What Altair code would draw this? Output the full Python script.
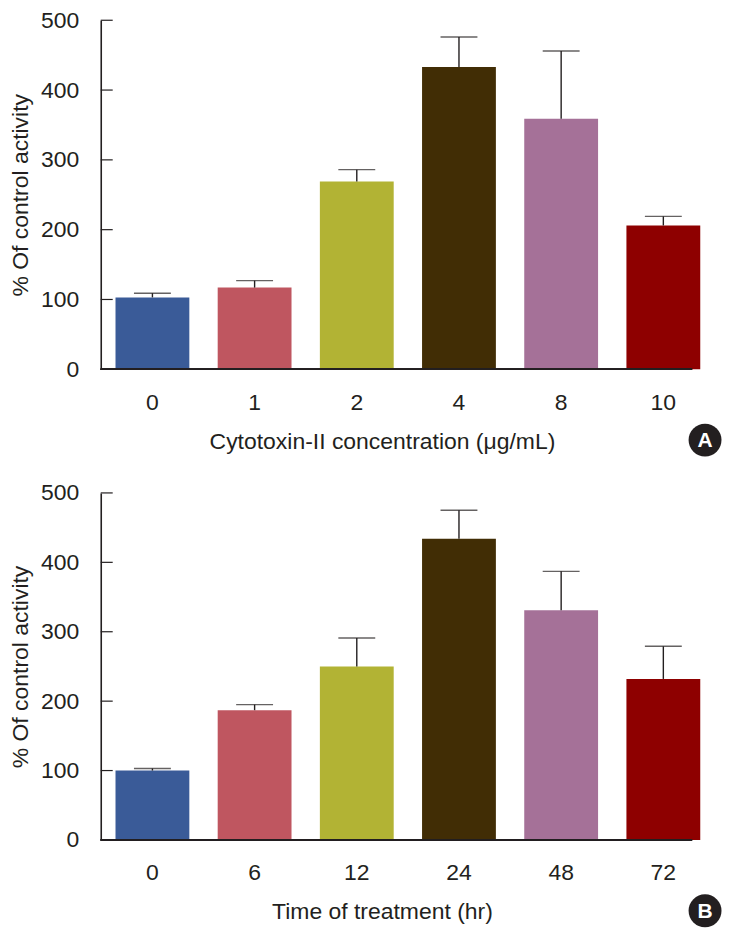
import altair as alt
import pandas as pd

# ---- data ----
conc_labels = ["0", "1", "2", "4", "8", "10"]
conc_mean = [103, 117, 269, 433, 359, 206]
conc_upper = [109, 127, 286, 476, 456, 219]

time_labels = ["0", "6", "12", "24", "48", "72"]
time_mean = [100, 187, 250, 434, 331, 232]
time_upper = [103, 195, 291, 475, 387, 279]

bar_colors = ["#3a5b98", "#bf5660", "#b2b334", "#412d05", "#a57198", "#8e0000"]
y_ticks = [0, 100, 200, 300, 400, 500]

INK = "#231f20"
FONT = "Liberation Sans"
W = 616


def panel(labels, means, uppers, xtitle, badge, H):
    df = pd.DataFrame({"cat": labels, "mean": means, "upper": uppers, "color": bar_colors})
    xscale = alt.Scale(paddingInner=0.2775, paddingOuter=0.1445)
    yscale = alt.Scale(domain=[0, 500], nice=False)
    ytitle = "% Of control activity"

    bars = alt.Chart(df).mark_bar().encode(
        x=alt.X("cat:N", sort=labels, scale=xscale,
                axis=alt.Axis(title=xtitle, domain=False, ticks=False, labelAngle=0,
                              labelPadding=22, labelFont=FONT, labelFontSize=23,
                              labelColor=INK, titleFont=FONT, titleFontSize=23,
                              titleFontWeight="normal", titleColor=INK,
                              titleX=282, titleY=61, titleAlign="center",
                              titleBaseline="top")),
        y=alt.Y("mean:Q", scale=yscale, title=ytitle,
                axis=alt.Axis(values=y_ticks, ticks=False, grid=False,
                              domainColor=INK, domainWidth=1.6,
                              labelPadding=22, labelFont=FONT, labelFontSize=23,
                              labelColor=INK,
                              titleFont=FONT, titleFontSize=23,
                              titleFontWeight="normal", titleColor=INK,
                              titleAngle=270, titleX=-80, titleY=H / 2,
                              titleAlign="center", titleBaseline="middle")),
        color=alt.Color("color:N", scale=None, legend=None),
    )

    stems = alt.Chart(df).mark_rule(color=INK, strokeWidth=1.4).encode(
        x=alt.X("cat:N", sort=labels, scale=xscale, title=xtitle),
        y=alt.Y("mean:Q", scale=yscale, title=ytitle),
        y2="upper:Q",
    )
    caps = alt.Chart(df).mark_tick(color=INK, thickness=1.4, size=37).encode(
        x=alt.X("cat:N", sort=labels, scale=xscale, title=xtitle),
        y=alt.Y("upper:Q", scale=yscale, title=ytitle),
    )

    tdf = pd.DataFrame({"tick": y_ticks})
    yticks = alt.Chart(tdf).mark_rule(color=INK, strokeWidth=1.2).encode(
        y=alt.Y("tick:Q", scale=yscale, title=ytitle),
        x=alt.value(0), x2=alt.value(12),
    )

    xdomain = alt.Chart(tdf).mark_rule(color=INK, strokeWidth=1.6).encode(
        y=alt.datum(0),
        x=alt.value(0), x2=alt.value(593),
    )

    bdf = pd.DataFrame({"b": [badge]})
    circ = alt.Chart(bdf).mark_point(filled=True, shape="circle", size=1089,
                                     color=INK, opacity=1).encode(
        x=alt.value(606), y=alt.value(H + 71))
    letter = alt.Chart(bdf).mark_text(color="white", font=FONT, fontSize=21,
                                      fontWeight="bold", baseline="middle",
                                      align="center").encode(
        x=alt.value(606), y=alt.value(H + 72), text="b:N")

    return alt.layer(bars, stems, caps, yticks, xdomain, circ, letter).properties(
        width=W, height=H)


a = panel(conc_labels, conc_mean, conc_upper, "Cytotoxin-II concentration (μg/mL)", "A", 350)
b = panel(time_labels, time_mean, time_upper, "Time of treatment (hr)", "B", 348)

chart = alt.vconcat(a, b, spacing=25).properties(
    padding={"top": 0, "left": 2, "right": 0, "bottom": 0}
).configure_view(stroke=None)

chart.save("out.html", embed_options={"renderer": "svg", "actions": False})
